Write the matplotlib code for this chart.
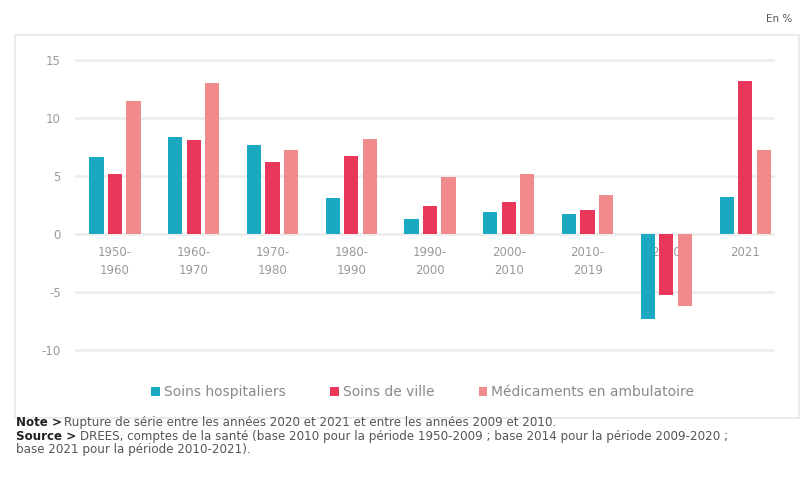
import matplotlib

matplotlib.use("Agg")
import matplotlib.pyplot as plt  # noqa: E402
import numpy as np  # noqa: E402
from matplotlib.patches import Rectangle  # noqa: E402

periods = ["1950-\n1960", "1960-\n1970", "1970-\n1980", "1980-\n1990", "1990-\n2000",
           "2000-\n2010", "2010-\n2019", "2020", "2021"]
hospital = [6.6, 8.4, 7.7, 3.1, 1.3, 1.9, 1.7, -7.3, 3.2]
ville = [5.2, 8.1, 6.2, 6.7, 2.4, 2.8, 2.1, -5.3, 13.2]
medic = [11.5, 13.0, 7.2, 8.2, 4.9, 5.2, 3.4, -6.2, 7.2]
series_names = ["Soins hospitaliers", "Soins de ville", "Médicaments en ambulatoire"]
colors = ["#19a9c1", "#e8375a", "#f08a8c"]
yticks = [15, 10, 5, 0, -5, -10]

fig = plt.figure(figsize=(8.04, 4.93), dpi=100)
ax = fig.add_axes([0.093, 0.2665, 0.871, 0.6353])

# light frame around the chart block
fig.patches.append(Rectangle((0.019, 0.153), 0.975, 0.775, transform=fig.transFigure,
                             fill=False, edgecolor="#ebebeb", lw=1.5))

x = np.arange(len(periods))
w = 0.18
off = 0.235
for i, (vals, c, name) in enumerate(zip([hospital, ville, medic], colors, series_names)):
    ax.bar(x + (i - 1) * off, vals, width=w, color=c, label=name, zorder=3)

ax.set_xlim(-0.51, 8.38)
ax.set_ylim(-11, 16)
ax.set_yticks(yticks)
ax.set_yticklabels([str(t) for t in yticks], color="#9a9a9a", fontsize=8.5)
ax.tick_params(axis="y", length=0, pad=10)
ax.set_xticks([])
ax.grid(axis="y", color="#ececec", lw=1.8, zorder=0)
for s in ax.spines.values():
    s.set_visible(False)

for xi, lab in zip(x, periods):
    ax.text(xi, -1.0, lab, ha="center", va="top", fontsize=8.5, color="#9a9a9a",
            linespacing=1.55, zorder=2)

leg = ax.legend(loc="upper center", bbox_to_anchor=(0.497, -0.035), ncol=3, frameon=False,
                fontsize=10, handlelength=0.6, handleheight=0.6, handletextpad=0.3,
                columnspacing=3.2)
for t in leg.get_texts():
    t.set_color("#8a8a8a")

fig.text(0.985, 0.962, "En %", ha="right", va="center", fontsize=7.5, color="#555555")

fs = 8.6
fig.text(0.02, 0.142, "Note >", ha="left", va="center", fontsize=fs, fontweight="bold",
         color="#222222")
fig.text(0.08, 0.142, "Rupture de série entre les années 2020 et 2021 et entre les années 2009 et 2010.",
         ha="left", va="center", fontsize=fs, color="#555555")
fig.text(0.02, 0.115, "Source >", ha="left", va="center", fontsize=fs, fontweight="bold",
         color="#222222")
fig.text(0.1, 0.115, "DREES, comptes de la santé (base 2010 pour la période 1950-2009 ; "
         "base 2014 pour la période 2009-2020 ;", ha="left", va="center", fontsize=fs,
         color="#555555")
fig.text(0.02, 0.088, "base 2021 pour la période 2010-2021).", ha="left", va="center",
         fontsize=fs, color="#555555")

fig.savefig("out.png", dpi=100)
